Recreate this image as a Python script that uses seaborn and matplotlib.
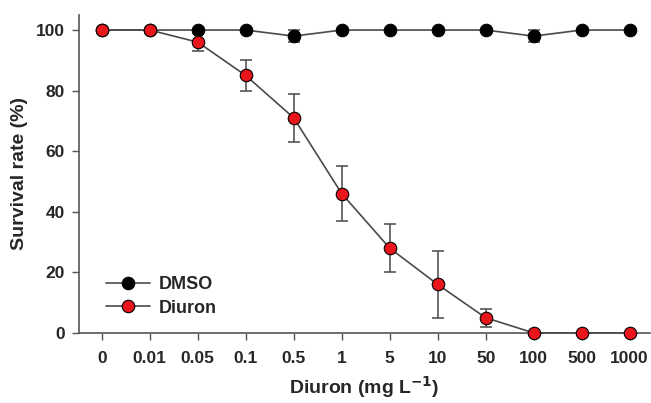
import numpy as np
import pandas as pd
import seaborn as sns
import matplotlib.pyplot as plt

concs = ["0", "0.01", "0.05", "0.1", "0.5", "1", "5", "10", "50", "100", "500", "1000"]
dmso = [100, 100, 100, 100, 98, 100, 100, 100, 100, 98, 100, 100]
dmso_err = [0, 0, 0, 0, 2, 0, 0, 0, 0, 2, 0, 0]
diuron = [100, 100, 96, 85, 71, 46, 28, 16, 5, 0, 0, 0]
diuron_err = [0, 0, 3, 5, 8, 9, 8, 11, 3, 0, 0, 0]

sns.set_style("ticks")
plt.rcParams['font.family'] = ['Liberation Sans', 'DejaVu Sans']
plt.rcParams['font.weight'] = 'bold'

pos = np.arange(len(concs))
df = pd.DataFrame({
    "pos": np.concatenate([pos, pos]),
    "rate": dmso + diuron,
    "group": ["DMSO"] * len(concs) + ["Diuron"] * len(concs),
})

fig = plt.figure(figsize=(6.51, 4.03), dpi=100)
ax = fig.add_axes([0.121, 0.174, 0.877, 0.789])

ax.errorbar(pos, dmso, yerr=dmso_err, fmt='none', ecolor='#555555', elinewidth=1.2,
            capsize=4, capthick=1.2, zorder=2)
ax.errorbar(pos, diuron, yerr=diuron_err, fmt='none', ecolor='#555555', elinewidth=1.2,
            capsize=4, capthick=1.2, zorder=2)

colors = {"DMSO": "black", "Diuron": "#e8151b"}
for name in ["DMSO", "Diuron"]:
    sub = df[df["group"] == name]
    sns.lineplot(data=sub, x="pos", y="rate", ax=ax, color="#4a4a4a", linewidth=1.2,
                 marker="o", markersize=9, markerfacecolor=colors[name],
                 markeredgecolor="black", markeredgewidth=0.8, label=name,
                 clip_on=False, zorder=3)

ax.set_xlim(-0.48, 11.42)
ax.set_ylim(0, 105)
ax.set_xticks(pos)
ax.set_xticklabels(concs)
ax.set_yticks([0, 20, 40, 60, 80, 100])
ax.tick_params(axis='both', labelsize=12.5, color='#555555', width=1, length=5, pad=5)
for lab in ax.get_xticklabels() + ax.get_yticklabels():
    lab.set_fontweight('bold')
ax.tick_params(axis='x', pad=8)

for s in ["top", "right"]:
    ax.spines[s].set_visible(False)
for s in ["left", "bottom"]:
    ax.spines[s].set_color('#555555')
    ax.spines[s].set_linewidth(1.2)

ax.set_xlabel("Diuron (mg L$^{\\mathbf{-1}}$)", fontsize=14, fontweight='bold', labelpad=6)
ax.set_ylabel("Survival rate (%)", fontsize=14, fontweight='bold', labelpad=6)

leg = ax.legend(loc='lower left', bbox_to_anchor=(0.02, 0.0), frameon=False,
                fontsize=13, handlelength=2.4, handletextpad=0.5, labelspacing=0.35)
for t in leg.get_texts():
    t.set_fontweight('bold')

fig.savefig("out.png", dpi=100)
